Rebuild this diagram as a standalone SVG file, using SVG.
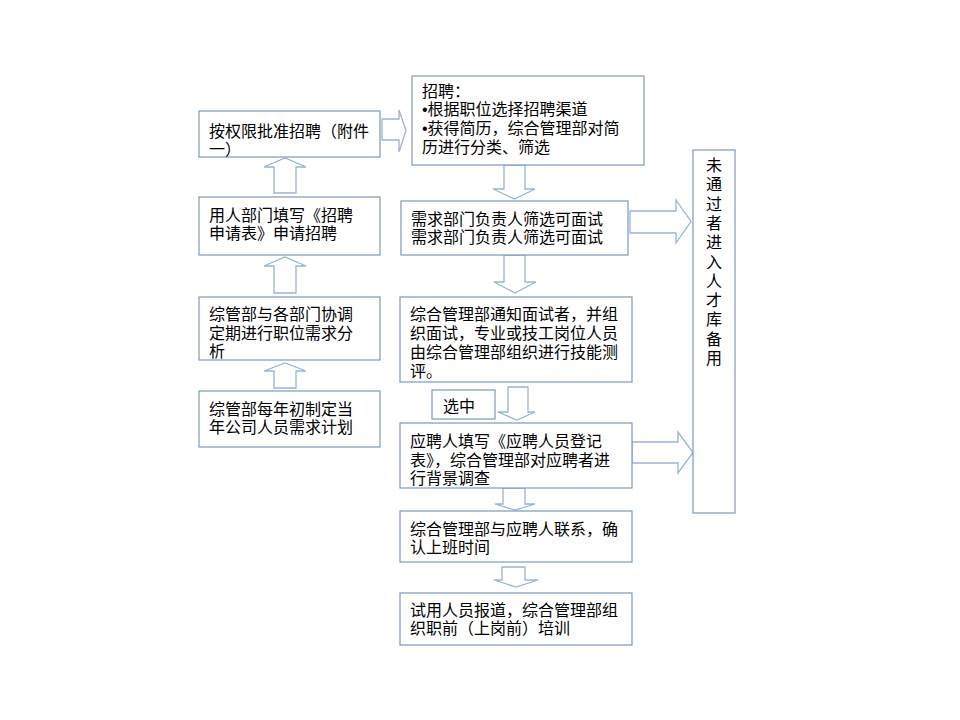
<svg xmlns="http://www.w3.org/2000/svg" width="960" height="720" viewBox="0 0 960 720">
<style>
.box{fill:#fff;stroke:#7d98bb;stroke-width:1.2}
.arr{fill:#fff;stroke:#9ab4d4;stroke-width:1.3;stroke-linejoin:miter}
text{font-family:"Noto Sans CJK SC","Noto Sans",sans-serif;font-size:16px;fill:#000}
.b{font-family:"Liberation Sans",sans-serif}
</style>
<rect width="960" height="720" fill="#fff"/>
<g id="connectors">
<polygon class="arr" points="274,193 274,167 264,167 285,158 306,167 296,167 296,193"/>
<polygon class="arr" points="274,293 274,266 264,266 285,257 306,266 296,266 296,293"/>
<polygon class="arr" points="274,388 274,371 264,371 285,363 306,371 296,371 296,388"/>
<polygon class="arr" points="382,119 399,119 399,110 406,130.5 399,152 399,140 382,140"/>
<polygon class="arr" points="504,165 525,165 525,189 535,189 514.5,199 493,189 504,189"/>
<polygon class="arr" points="504,255 525,255 525,282 536,282 515,293 494,282 504,282"/>
<polygon class="arr" points="508,387 528,387 528,412 535,412 517,420 498,412 508,412"/>
<polygon class="arr" points="503,488 525,488 525,504 535,504 515,510 495,504 503,504"/>
<polygon class="arr" points="502,567 525,567 525,580 538,580 516,587 494,580 502,580"/>
<polygon class="arr" points="630,211 676,211 676,200 691,221.5 676,243 676,233 630,233"/>
<polygon class="arr" points="632,442 678,442 678,432 693,452.5 678,473 678,463 632,463"/>
</g>
<g id="n-approve">
<rect class="box" x="199" y="111" width="181" height="46"/>
<text x="209" y="137">按权限批准招聘（附件<tspan x="209" dy="18">一）</tspan></text>
</g>
<g id="n-apply">
<rect class="box" x="199" y="197" width="181" height="58"/>
<text x="209" y="221">用人部门填写《招聘<tspan x="209" dy="18">申请表》申请招聘</tspan></text>
</g>
<g id="n-analysis">
<rect class="box" x="199" y="297" width="181" height="63"/>
<text x="209" y="320">综管部与各部门协调<tspan x="209" dy="19">定期进行职位需求分</tspan><tspan x="209" dy="18">析</tspan></text>
</g>
<g id="n-plan">
<rect class="box" x="199" y="391" width="181" height="56"/>
<text x="209" y="415">综管部每年初制定当<tspan x="209" dy="18">年公司人员需求计划</tspan></text>
</g>
<g id="n-recruit">
<rect class="box" x="412" y="76" width="232" height="89"/>
<text x="422" y="97">招聘：<tspan x="422" dy="18" class="b">•</tspan><tspan>根据职位选择招聘渠道</tspan><tspan x="422" dy="19" class="b">•</tspan><tspan>获得简历，综合管理部对简</tspan><tspan x="422" dy="19">历进行分类、筛选</tspan></text>
</g>
<g id="n-screen">
<rect class="box" x="401" y="201" width="227" height="54"/>
<text x="411" y="225">需求部门负责人筛选可面试<tspan x="411" dy="18">需求部门负责人筛选可面试</tspan></text>
</g>
<g id="n-interview">
<rect class="box" x="400" y="297" width="232" height="85"/>
<text x="410" y="320">综合管理部通知面试者，并组<tspan x="410" dy="19">织面试，专业或技工岗位人员</tspan><tspan x="410" dy="19">由综合管理部组织进行技能测</tspan><tspan x="410" dy="19">评。</tspan></text>
</g>
<g id="n-selected">
<rect class="box" x="432" y="390" width="63" height="29"/>
<text x="443" y="412">选中</text>
</g>
<g id="n-register">
<rect class="box" x="400" y="423" width="232" height="65"/>
<text x="410" y="447">应聘人填写《应聘人员登记<tspan x="410" dy="19">表》，综合管理部对应聘者进</tspan><tspan x="410" dy="18">行背景调查</tspan></text>
</g>
<g id="n-contact">
<rect class="box" x="400" y="511" width="232" height="51"/>
<text x="410" y="535">综合管理部与应聘人联系，确<tspan x="410" dy="18">认上班时间</tspan></text>
</g>
<g id="n-report">
<rect class="box" x="400" y="593" width="232" height="52"/>
<text x="410" y="616">试用人员报道，综合管理部组<tspan x="410" dy="18">织职前（上岗前）培训</tspan></text>
</g>
<g id="n-pool">
<rect class="box" x="693" y="150" width="42" height="363"/>
<text x="714" y="171" text-anchor="middle">未<tspan x="714" dy="19.3">通</tspan><tspan x="714" dy="19.3">过</tspan><tspan x="714" dy="19.3">者</tspan><tspan x="714" dy="19.3">进</tspan><tspan x="714" dy="19.3">入</tspan><tspan x="714" dy="19.3">人</tspan><tspan x="714" dy="19.3">才</tspan><tspan x="714" dy="19.3">库</tspan><tspan x="714" dy="19.3">备</tspan><tspan x="714" dy="19.3">用</tspan></text>
</g>
</svg>
